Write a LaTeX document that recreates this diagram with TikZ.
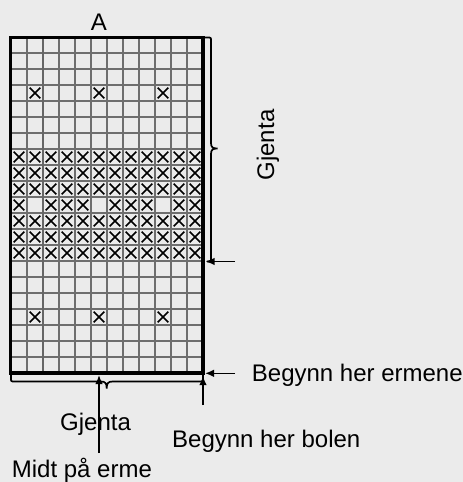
\documentclass[tikz,border=0pt]{standalone}
\usepackage{fontspec}
\setmainfont{Liberation Sans}
\usetikzlibrary{arrows.meta}
\definecolor{bg}{HTML}{EBEBEB}
\definecolor{gridc}{HTML}{6E6E6E}
\definecolor{gridd}{HTML}{666666}
\begin{document}
\begin{tikzpicture}[x=1pt,y=-1pt,
  lbl/.style={font=\fontsize{24}{28}\selectfont, inner sep=0pt},
  gridline/.style={draw=gridc, line width=1.2pt},
  gridthick/.style={draw=gridd, line width=1.7pt},
  border/.style={draw=black, line width=3.4pt},
  xmark/.style={draw=black, line width=1.7pt},
  arr/.style={-{Latex[length=9pt,width=7.5pt]}, line width=1.5pt},
  bracepath/.style={draw=black, line width=1.7pt},
  xm/.pic={\draw[xmark] (-5.3,-5.3) -- (5.3,5.3) (-5.3,5.3) -- (5.3,-5.3);}]
\useasboundingbox[fill=bg] (0,0) rectangle (463,482);
% grid
\foreach \i in {1,...,11} \draw[gridline] (11+16*\i,37) -- (11+16*\i,373);
\foreach \j in {1,...,20} \draw[gridline] (11,37+16*\j) -- (203,37+16*\j);
\draw[gridthick] (43,37) -- (43,373);
% crosses
\foreach \r in {3,17} \foreach \c in {1,5,9} \pic at (19+16*\c,45+16*\r) {xm};
\foreach \r in {7,8,9,11,12,13} \foreach \c in {0,...,11} \pic at (19+16*\c,45+16*\r) {xm};
\foreach \c in {0,2,3,4,6,7,8,10,11} \pic at (19+16*\c,45+16*10) {xm};
% border
\draw[border] (10.5,37.2) rectangle (203,372.8);
% right brace
\draw[bracepath] (203,37.5) -- (207.5,37.5) .. controls (211,37.5) .. (211,41) -- (211,143)
  .. controls (211,147.5) and (213,148.5) .. (217.5,148.5)
  .. controls (213,148.5) and (211,149.5) .. (211,154) -- (211,258)
  .. controls (211,261.5) .. (207,261.5);
% bottom brace
\draw[bracepath] (11,375) -- (11,378) .. controls (11,381.5) .. (14.5,381.5) -- (101,381.5)
  .. controls (105.5,381.5) and (106.7,383.5) .. (106.7,388.5)
  .. controls (106.7,383.5) and (108,381.5) .. (112.5,381.5) -- (199.5,381.5)
  .. controls (203,381.5) .. (203,378) -- (203,375);
% labels
\node[lbl, anchor=base] (A) at (99,30) {A};
\node[lbl, rotate=90, anchor=base] (gj1) at (274,145) {Gjenta};
\node[lbl, anchor=base west] (erm) at (251.7,381.5) {Begynn her ermene};
\node[lbl, anchor=base west] (gj2) at (60,430) {Gjenta};
\node[lbl, anchor=base west] (bol) at (172,447.3) {Begynn her bolen};
\node[lbl, anchor=base west] (midt) at (11.7,477.3) {Midt på erme};
% arrows
\coordinate (r1s) at (235,261.5); \coordinate (r1e) at (205.5,261.5);
\coordinate (r2s) at (235,373.3); \coordinate (r2e) at (205,373.3);
\coordinate (m1s) at (99,453);    \coordinate (m1e) at (99,375);
\coordinate (b1s) at (203,405);   \coordinate (b1e) at (203,376);
\draw[arr] (r1s) -- (r1e);
\draw[arr] (r2s) -- (r2e);
\draw[arr] (m1s) -- (m1e);
\draw[arr] (b1s) -- (b1e);
\end{tikzpicture}
\end{document}
